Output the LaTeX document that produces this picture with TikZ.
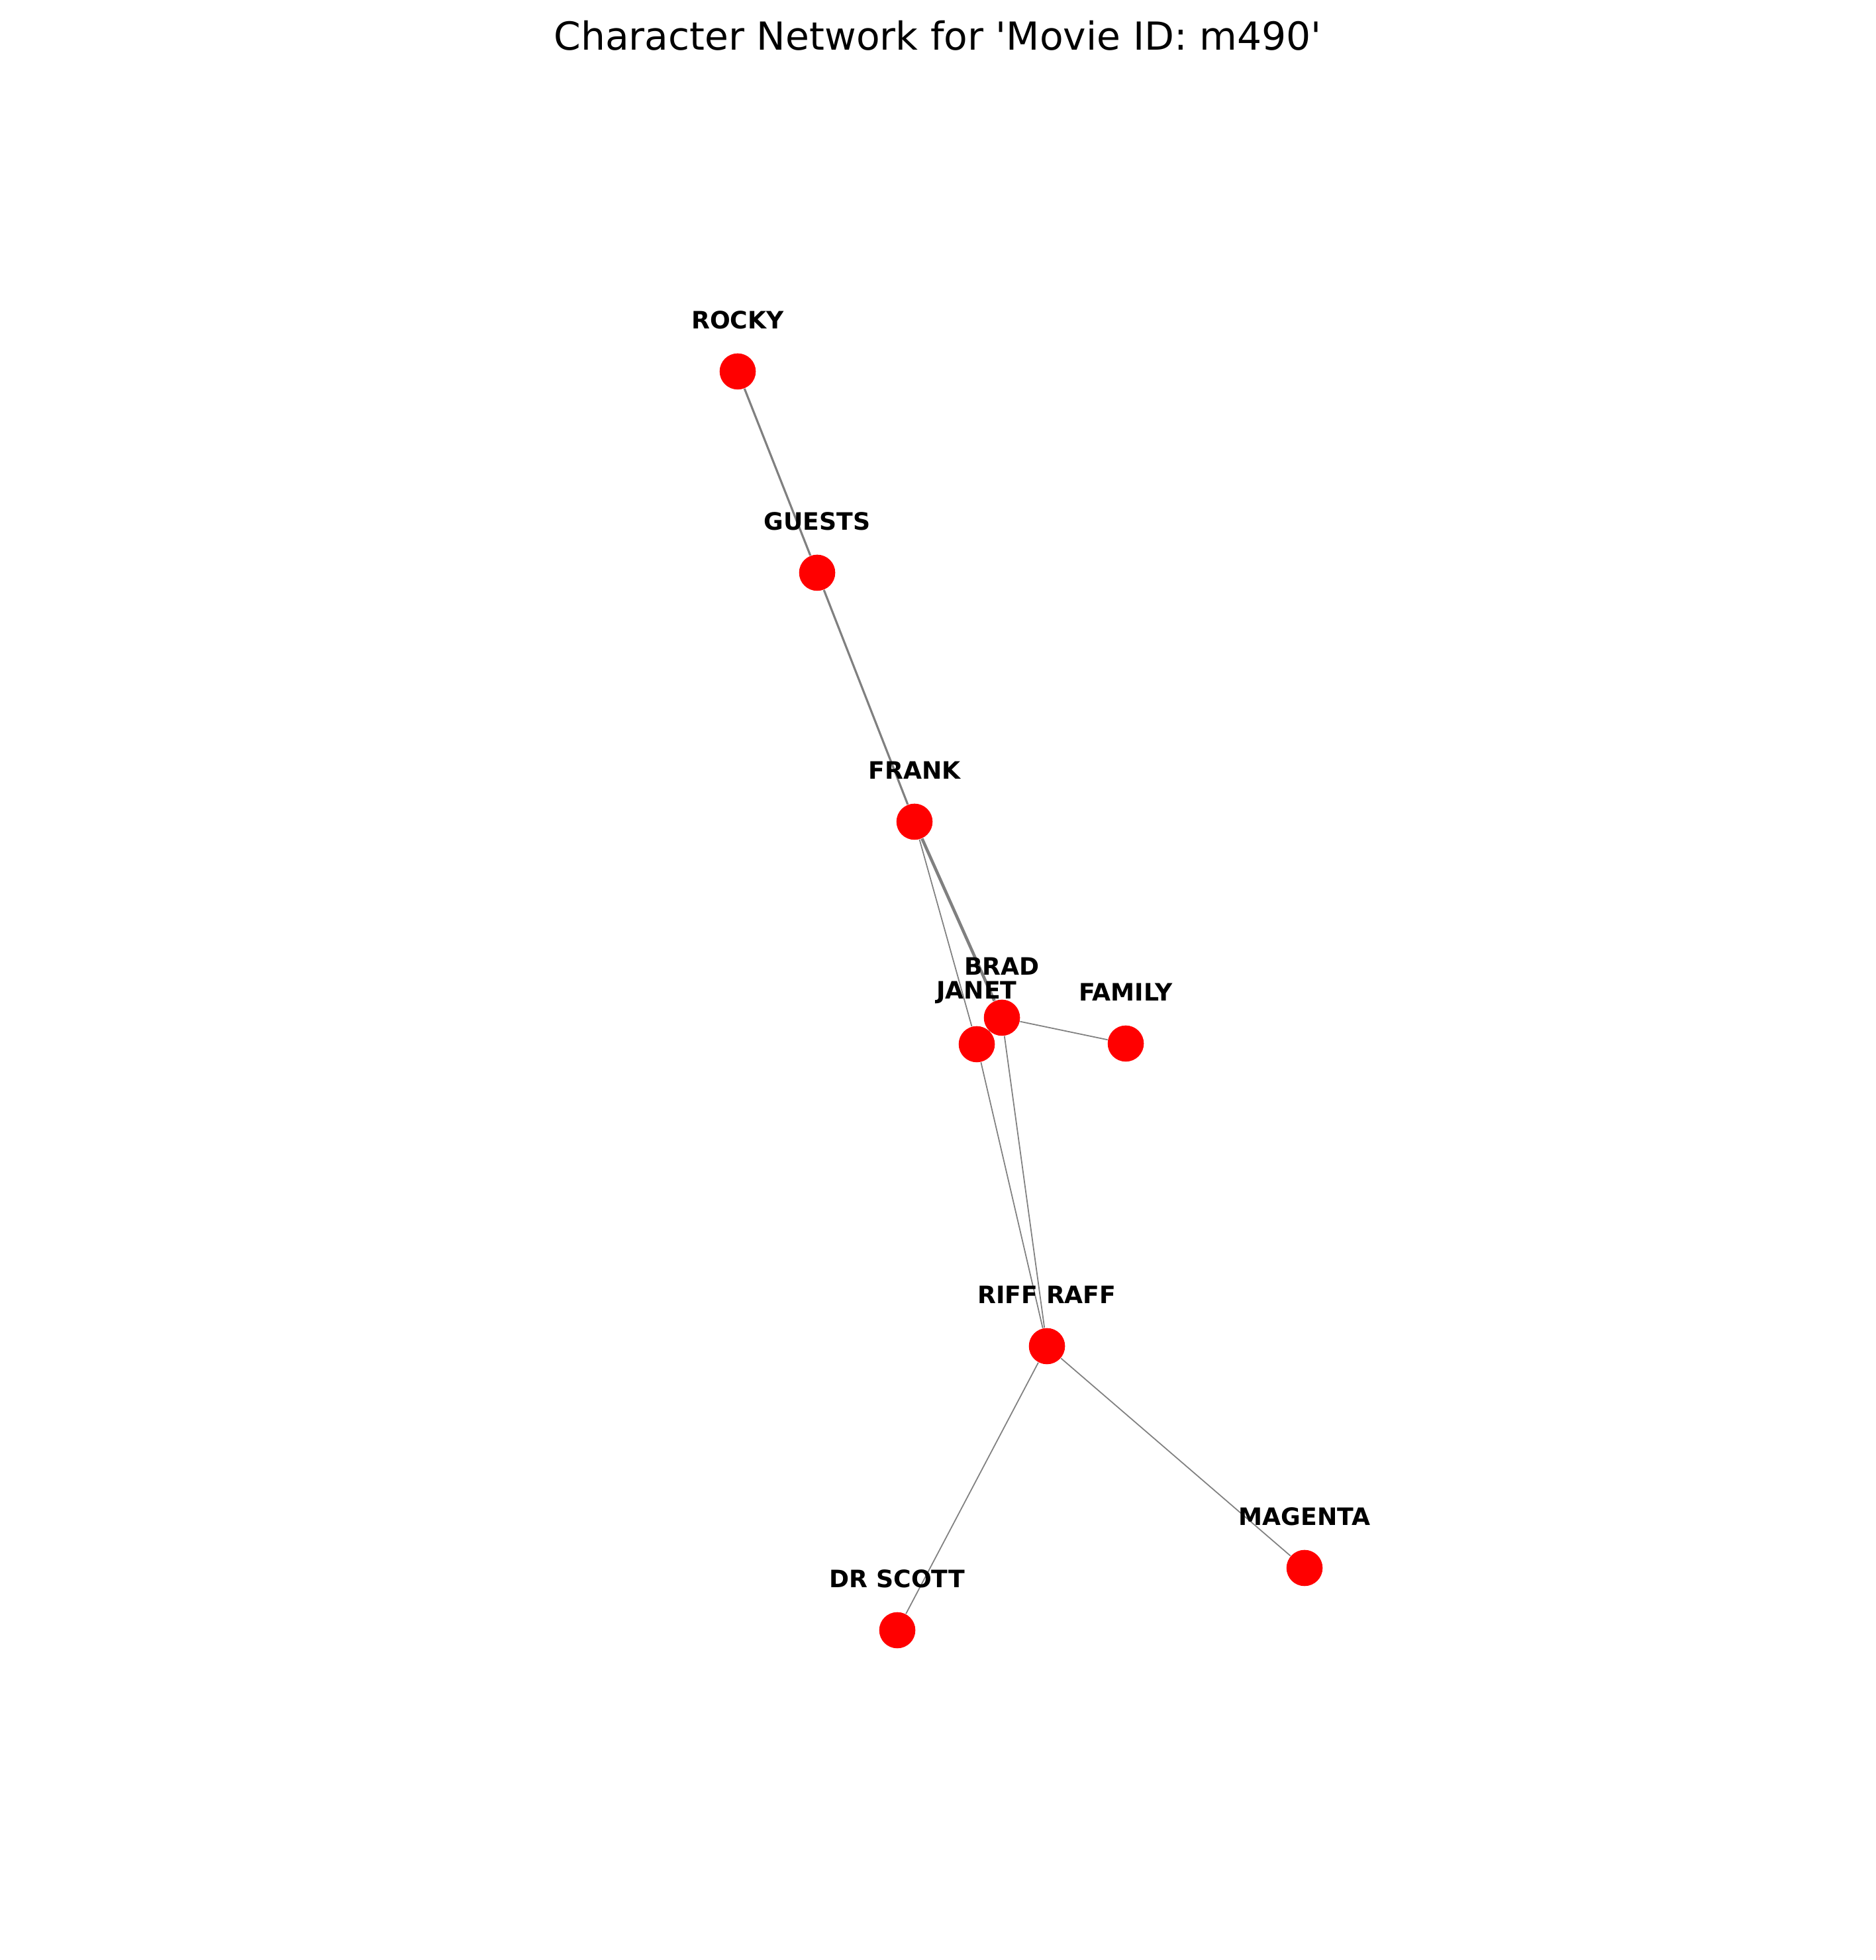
\documentclass[tikz,border=0pt]{standalone}
\usepackage{fontspec}
\setmainfont{DejaVu Sans}
\usepackage{tikz}
\usetikzlibrary{positioning}

\begin{document}
\begin{tikzpicture}[line width=0.4pt,
    person/.style={circle, fill=red, inner sep=0pt, minimum size=5.46mm},
    castname/.style={font=\fontsize{10.3}{12}\selectfont\bfseries, inner sep=0pt},
    link/.style={draw=gray, line width=0.5pt},
    midlink/.style={draw=gray, line width=0.9pt},
    heavylink/.style={draw=gray, line width=1.3pt}]
    \useasboundingbox (0,0) rectangle (28.32,29.60);

    \node[font=\fontsize{16.6}{20}\selectfont] (title) at (14.16,29.06) {Character Network for \textquotesingle Movie ID: m490\textquotesingle};

    \node[person] (rocky) at (11.14,23.99) {};
    \node[person] (guests) at (12.34,20.95) {};
    \node[person] (frank) at (13.81,17.19) {};
    \node[person] (brad) at (15.13,14.23) {};
    \node[person] (janet) at (14.75,13.83) {};
    \node[person] (family) at (17.00,13.84) {};
    \node[person] (riffRaff) at (15.81,9.27) {};
    \node[person] (drScott) at (13.55,4.98) {};
    \node[person] (magenta) at (19.70,5.92) {};

    \draw[midlink] (rocky) -- (guests);
    \draw[midlink] (guests) -- (frank);
    \draw[heavylink] (frank) -- (brad);
    \draw[link] (frank) -- (janet);
    \draw[link] (brad) -- (janet);
    \draw[link] (brad) -- (family);
    \draw[link] (janet) -- (riffRaff);
    \draw[link] (brad) -- (riffRaff);
    \draw[link] (riffRaff) -- (drScott);
    \draw[link] (riffRaff) -- (magenta);

    % names sit a fixed step above each dot
    \node[castname] (rockyL) at ([yshift=7.8mm]rocky.center) {ROCKY};
    \node[castname] (guestsL) at ([yshift=7.8mm]guests.center) {GUESTS};
    \node[castname] (frankL) at ([yshift=7.8mm]frank.center) {FRANK};
    \node[castname] (bradL) at ([yshift=7.8mm]brad.center) {BRAD};
    \node[castname] (janetL) at ([yshift=7.8mm]janet.center) {JANET};
    \node[castname] (familyL) at ([yshift=7.8mm]family.center) {FAMILY};
    \node[castname] (riffRaffL) at ([yshift=7.8mm]riffRaff.center) {RIFF RAFF};
    \node[castname] (drScottL) at ([yshift=7.8mm]drScott.center) {DR SCOTT};
    \node[castname] (magentaL) at ([yshift=7.8mm]magenta.center) {MAGENTA};
\end{tikzpicture}
\end{document}
